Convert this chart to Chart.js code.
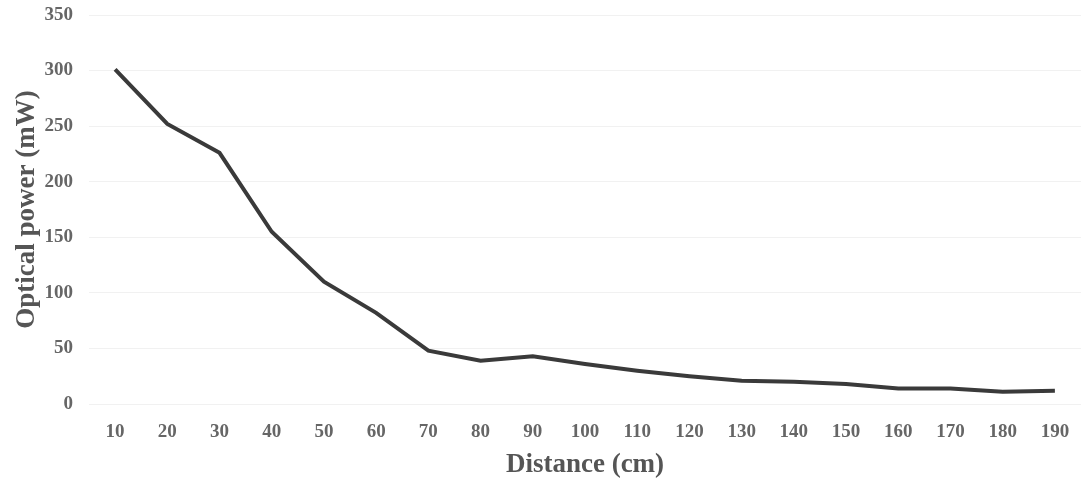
<!DOCTYPE html>
<html>
<head>
<meta charset="utf-8">
<script src="https://cdn.jsdelivr.net/npm/chart.js@4"></script>
<style>
  html, body { margin: 0; padding: 0; background: #fff; }
  #wrap { width: 1082px; height: 479px; }
</style>
</head>
<body>
<div id="wrap"><canvas id="power"></canvas></div>
<script>
const distances = ['10', '20', '30', '40', '50', '60', '70', '80', '90', '100',
  '110', '120', '130', '140', '150', '160', '170', '180', '190'];
const power = [301, 252, 226, 155, 110, 82, 48, 39, 43, 36,
  30, 25, 21, 20, 18, 14, 14, 11, 12];
const yTicks = [0, 50, 100, 150, 200, 250, 300, 350];

const serif = "'Liberation Serif', 'Times New Roman', serif";

new Chart(document.getElementById('power'), {
  type: 'line',
  data: {
    labels: distances,
    datasets: [{
      data: power,
      borderColor: '#3a3a3a',
      borderWidth: 4,
      pointRadius: 0,
      tension: 0,
      fill: false
    }]
  },
  options: {
    responsive: true,
    maintainAspectRatio: false,
    animation: false,
    layout: { padding: { top: 0, right: 1, left: 0, bottom: 2 } },
    plugins: {
      legend: { display: false },
      tooltip: { enabled: false }
    },
    scales: {
      x: {
        offset: true,
        afterFit: (axis) => { axis.height = 73 },
        grid: { display: false },
        border: { display: false },
        ticks: {
          color: '#666',
          font: { family: serif, size: 19, weight: 'bold' },
          padding: 9,
          maxRotation: 0,
          autoSkip: false
        },
        title: {
          display: true,
          text: 'Distance (cm)',
          color: '#555',
          font: { family: serif, size: 27, weight: 'bold' },
          padding: { top: 0, bottom: -4 }
        }
      },
      y: {
        min: 0,
        max: 350,
        afterBuildTicks: (axis) => { axis.ticks = yTicks.map(v => ({ value: v })) },
        afterFit: (axis) => { axis.width = 89; axis.paddingTop = 15 },
        grid: { color: '#f1f1f1', lineWidth: 1, drawTicks: false },
        border: { display: false },
        ticks: {
          color: '#666',
          font: { family: serif, size: 19, weight: 'bold' },
          padding: 16
        },
        title: {
          display: true,
          text: 'Optical power (mW)',
          color: '#555',
          font: { family: serif, size: 27, weight: 'bold' },
          padding: { top: 11, bottom: 0 }
        }
      }
    }
  }
});
</script>
</body>
</html>
